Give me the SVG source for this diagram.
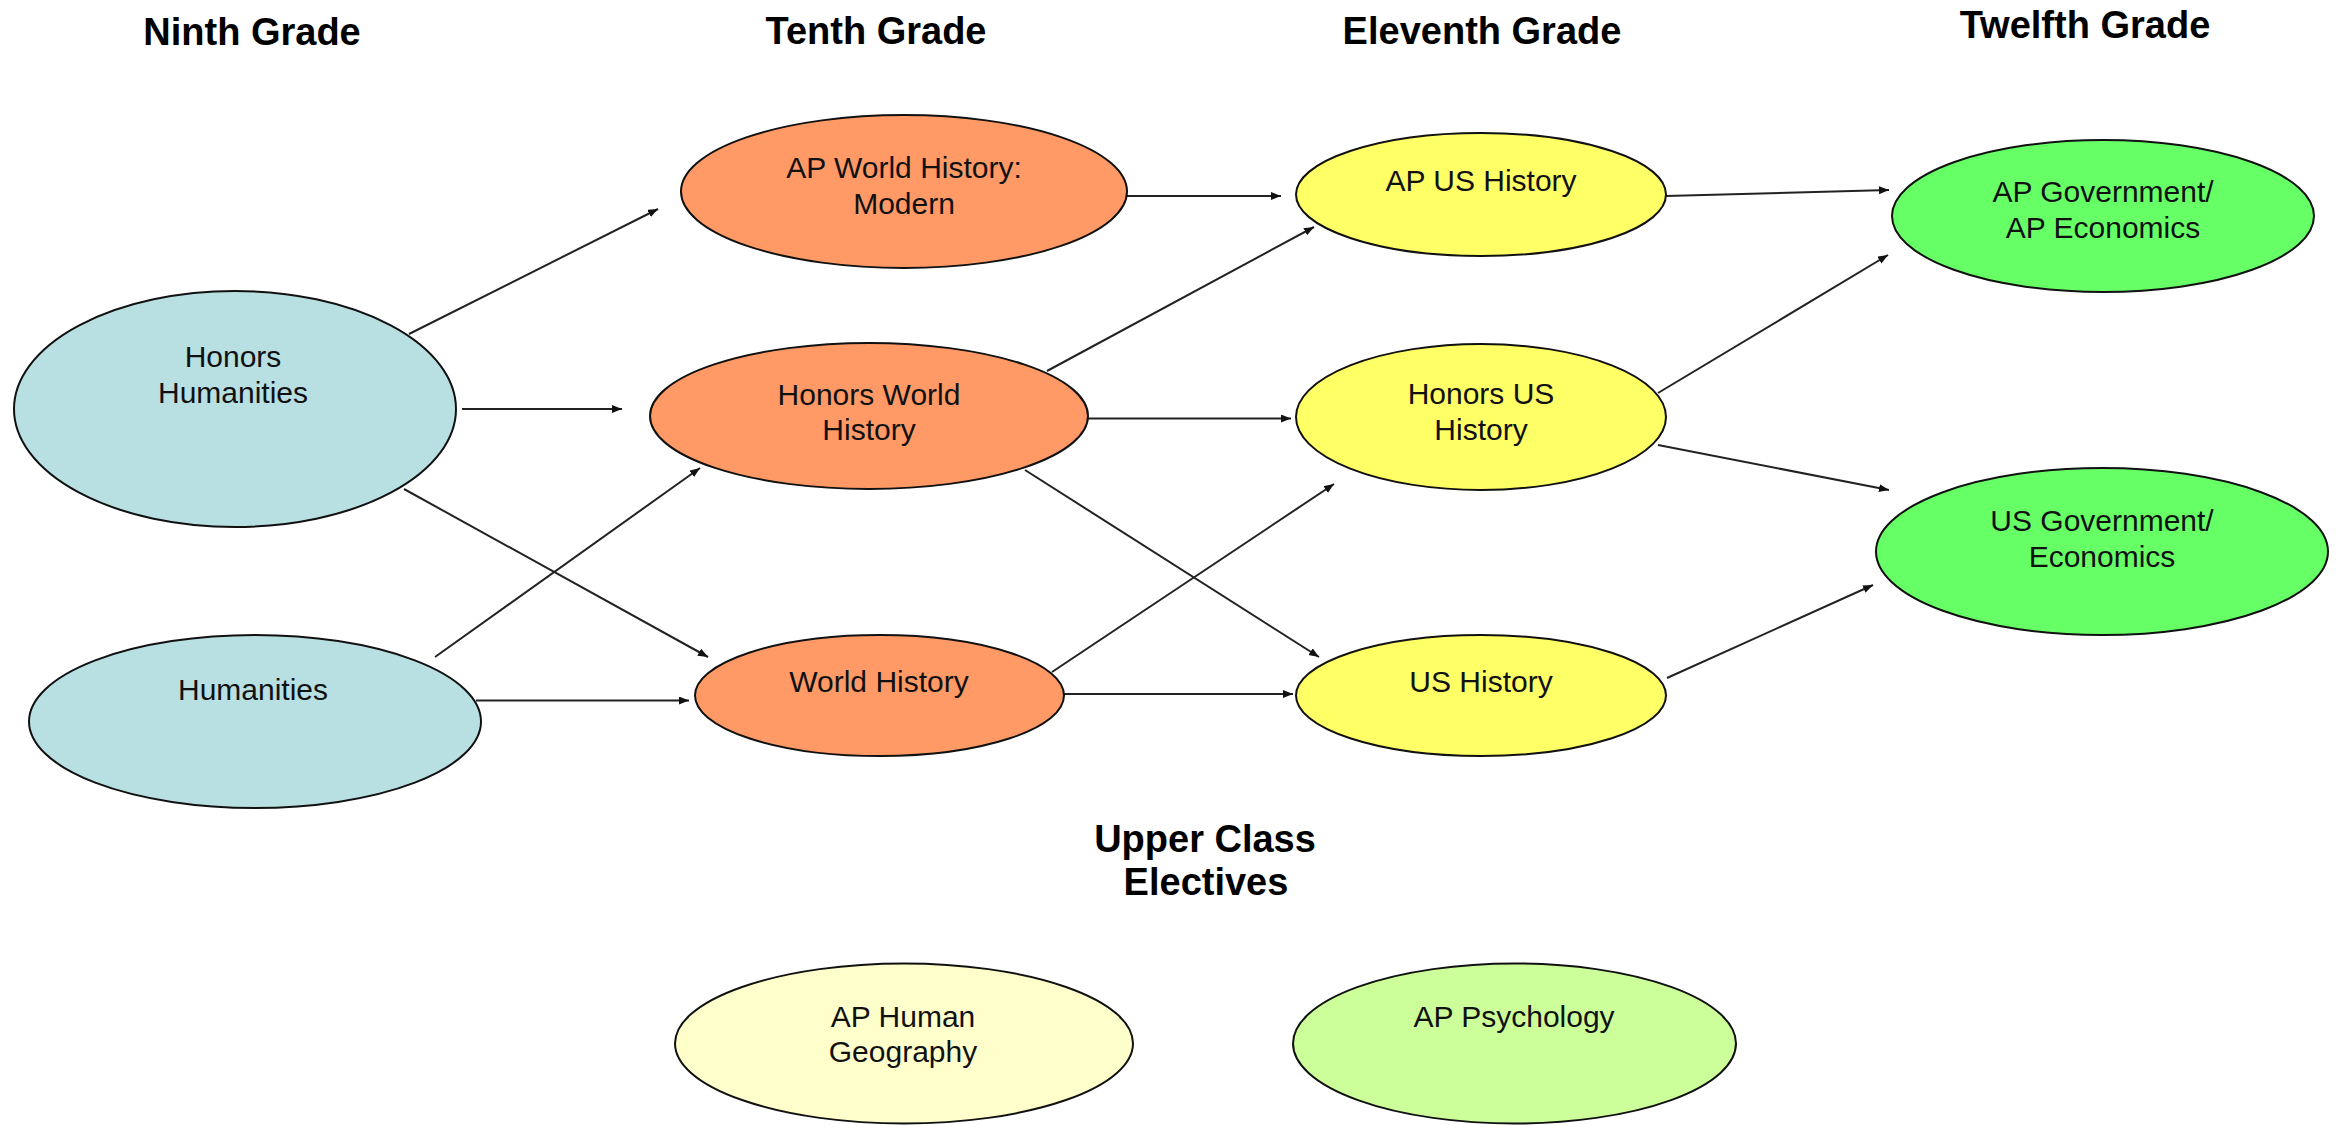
<svg xmlns="http://www.w3.org/2000/svg" width="2343" height="1125" viewBox="0 0 2343 1125">
<style>
  .hdr { font-family: "Liberation Sans", Arial, sans-serif; font-weight: bold; font-size: 38px; fill: #000; text-anchor: middle; }
  .lbl { font-family: "Liberation Sans", Arial, sans-serif; font-size: 30px; fill: #111; text-anchor: middle; }
  .node { stroke: #111; stroke-width: 2; }
  .blue { fill: #B8DFE2; }
  .orange { fill: #FF9966; }
  .yellow { fill: #FFFF66; }
  .green { fill: #66FF66; }
  .paleyellow { fill: #FFFFCC; }
  .lightgreen { fill: #CCFF99; }
  .conn line { stroke: #222; stroke-width: 2; fill: none; marker-end: url(#arrow); }
</style>
<defs>
  <marker id="arrow" markerUnits="userSpaceOnUse" markerWidth="11" markerHeight="9" refX="10" refY="4" orient="auto">
    <path d="M0,0 L10,4 L0,8 z" fill="#111"/>
  </marker>
</defs>
<rect width="2343" height="1125" fill="#fff"/>

<g id="headers">
  <text class="hdr" x="252" y="45">Ninth Grade</text>
  <text class="hdr" x="876" y="44">Tenth Grade</text>
  <text class="hdr" x="1482" y="44">Eleventh Grade</text>
  <text class="hdr" x="2085" y="38">Twelfth Grade</text>
  <text class="hdr" x="1205" y="852">Upper Class</text>
  <text class="hdr" x="1206" y="895">Electives</text>
</g>

<g id="connectors" class="conn">
  <line x1="409" y1="334" x2="658" y2="209"/>
  <line x1="462" y1="409" x2="622" y2="409"/>
  <line x1="404" y1="489" x2="708" y2="657"/>
  <line x1="435" y1="657" x2="700" y2="468"/>
  <line x1="476" y1="700.5" x2="689" y2="700.5"/>
  <line x1="1127" y1="196" x2="1281" y2="196"/>
  <line x1="1047" y1="371" x2="1314" y2="227"/>
  <line x1="1088" y1="418.5" x2="1291" y2="418.5"/>
  <line x1="1025" y1="470" x2="1319" y2="657"/>
  <line x1="1052" y1="672" x2="1334" y2="484"/>
  <line x1="1064" y1="694" x2="1293" y2="694"/>
  <line x1="1666" y1="196" x2="1889" y2="190"/>
  <line x1="1658" y1="393" x2="1888" y2="255"/>
  <line x1="1658" y1="445" x2="1889" y2="490"/>
  <line x1="1667" y1="678" x2="1873" y2="585"/>
</g>

<g id="honors-humanities">
  <ellipse class="node blue" cx="235" cy="409" rx="221" ry="118"/>
  <text class="lbl" x="233" y="367">Honors</text>
  <text class="lbl" x="233" y="403">Humanities</text>
</g>
<g id="humanities">
  <ellipse class="node blue" cx="255" cy="721.5" rx="226" ry="86.5"/>
  <text class="lbl" x="253" y="700">Humanities</text>
</g>
<g id="ap-world-history">
  <ellipse class="node orange" cx="904" cy="191.5" rx="223" ry="76.5"/>
  <text class="lbl" x="904" y="178">AP World History:</text>
  <text class="lbl" x="904" y="214">Modern</text>
</g>
<g id="honors-world-history">
  <ellipse class="node orange" cx="869" cy="416" rx="219" ry="73"/>
  <text class="lbl" x="869" y="405">Honors World</text>
  <text class="lbl" x="869" y="440">History</text>
</g>
<g id="world-history">
  <ellipse class="node orange" cx="879.5" cy="695.5" rx="184.5" ry="60.5"/>
  <text class="lbl" x="879" y="692">World History</text>
</g>
<g id="ap-us-history">
  <ellipse class="node yellow" cx="1481" cy="194.5" rx="185" ry="61.5"/>
  <text class="lbl" x="1481" y="191">AP US History</text>
</g>
<g id="honors-us-history">
  <ellipse class="node yellow" cx="1481" cy="417" rx="185" ry="73"/>
  <text class="lbl" x="1481" y="404">Honors US</text>
  <text class="lbl" x="1481" y="440">History</text>
</g>
<g id="us-history">
  <ellipse class="node yellow" cx="1481" cy="695.5" rx="185" ry="60.5"/>
  <text class="lbl" x="1481" y="692">US History</text>
</g>
<g id="ap-government">
  <ellipse class="node green" cx="2103" cy="216" rx="211" ry="76"/>
  <text class="lbl" x="2103" y="202">AP Government/</text>
  <text class="lbl" x="2103" y="238">AP Economics</text>
</g>
<g id="us-government">
  <ellipse class="node green" cx="2102" cy="551.5" rx="226" ry="83.5"/>
  <text class="lbl" x="2102" y="531">US Government/</text>
  <text class="lbl" x="2102" y="567">Economics</text>
</g>
<g id="ap-human-geography">
  <ellipse class="node paleyellow" cx="904" cy="1043.5" rx="229" ry="80"/>
  <text class="lbl" x="903" y="1027">AP Human</text>
  <text class="lbl" x="903" y="1062">Geography</text>
</g>
<g id="ap-psychology">
  <ellipse class="node lightgreen" cx="1514.5" cy="1043.5" rx="221.5" ry="80"/>
  <text class="lbl" x="1514" y="1027">AP Psychology</text>
</g>
</svg>
